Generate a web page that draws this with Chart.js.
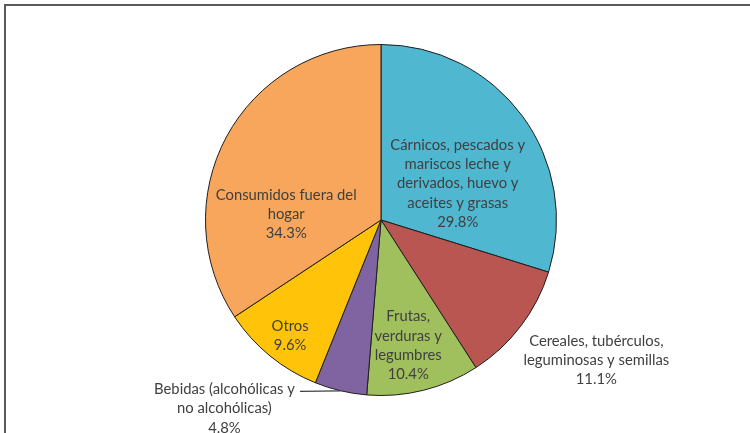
<!DOCTYPE html>
<html>
<head>
<meta charset="utf-8">
<script src="https://cdn.jsdelivr.net/npm/chart.js@4/dist/chart.umd.min.js"></script>
<style>
  html, body { margin: 0; padding: 0; background: #fff; }
  #wrap { position: relative; width: 750px; height: 433px; overflow: hidden; }
  #frame { position: absolute; left: 4px; top: 4px; width: 800px; height: 500px;
           border-top: 2px solid #5a5a5a; border-left: 2px solid #5a5a5a; box-sizing: border-box; }
  canvas { position: absolute; left: 0; top: 0; }
</style>
</head>
<body>
<div id="wrap">
  <div id="frame"></div>
  <canvas id="c" width="750" height="433"></canvas>
</div>
<script>
// ---- Data ----
const categories = [
  "Cárnicos, pescados y mariscos leche y derivados, huevo y aceites y grasas",
  "Cereales, tubérculos, leguminosas y semillas",
  "Frutas, verduras y legumbres",
  "Bebidas (alcohólicas y no alcohólicas)",
  "Otros",
  "Consumidos fuera del hogar"
];
const labelLines = [
  ["Cárnicos, pescados y", "mariscos leche y", "derivados, huevo y", "aceites y grasas"],
  ["Cereales, tubérculos,", "leguminosas y semillas"],
  ["Frutas,", "verduras y", "legumbres"],
  ["Bebidas (alcohólicas y", "no alcohólicas)"],
  ["Otros"],
  ["Consumidos fuera del", "hogar"]
];
const values = [29.8, 11.1, 10.4, 4.8, 9.6, 34.3];

// ---- Style ----
const colors = ["#4fb7cf", "#ba5651", "#a0c05e", "#8064a2", "#ffc40a", "#f8a65b"];
// label centre offsets as fractions of the pie radius
const labelOffsets = [[0.437, -0.207], [1.227, 0.80], [0.155, 0.716], [-0.892, 1.074], [-0.518, 0.66], [-0.54, -0.034]];
const leaderIdx = 3;
const leaderStart = [-0.462, 0.977];

const labelPlugin = {
  id: 'pieLabels',
  afterDatasetsDraw(chart) {
    const ctx = chart.ctx;
    const meta = chart.getDatasetMeta(0);
    const lh = 19.3;
    ctx.save();
    ctx.font = '14.8px Lato, "Open Sans", sans-serif';
    ctx.fillStyle = '#404040';
    ctx.textAlign = 'center';
    ctx.textBaseline = 'middle';
    meta.data.forEach((arc, i) => {
      const p = arc.getProps(['x', 'y', 'outerRadius', 'startAngle', 'endAngle'], true);
      const r = p.outerRadius;
      const lines = labelLines[i].concat([values[i].toFixed(1) + '%']);
      const cx = p.x + labelOffsets[i][0] * r;
      const cy = p.y + labelOffsets[i][1] * r;
      const y0 = cy - (lines.length - 1) * lh / 2;
      lines.forEach((t, k) => ctx.fillText(t, cx, y0 + k * lh));
      if (i === leaderIdx) {
        const mid = (p.startAngle + p.endAngle) / 2;
        const ex = p.x + Math.cos(mid) * r;
        const ey = p.y + Math.sin(mid) * r;
        ctx.beginPath();
        ctx.strokeStyle = '#404040';
        ctx.lineWidth = 1.2;
        ctx.moveTo(p.x + leaderStart[0] * r, p.y + leaderStart[1] * r);
        ctx.lineTo(ex, ey);
        ctx.stroke();
      }
    });
    ctx.restore();
  }
};

new Chart(document.getElementById('c'), {
  type: 'pie',
  data: {
    labels: categories,
    datasets: [{
      data: values,
      backgroundColor: colors,
      borderColor: '#1e1e1e',
      borderWidth: 1
    }]
  },
  options: {
    responsive: false,
    animation: false,
    events: [],
    layout: { padding: { left: 200, right: 188, top: 44, bottom: 37 } },
    plugins: { legend: { display: false }, tooltip: { enabled: false } }
  },
  plugins: [labelPlugin]
});
</script>
</body>
</html>
